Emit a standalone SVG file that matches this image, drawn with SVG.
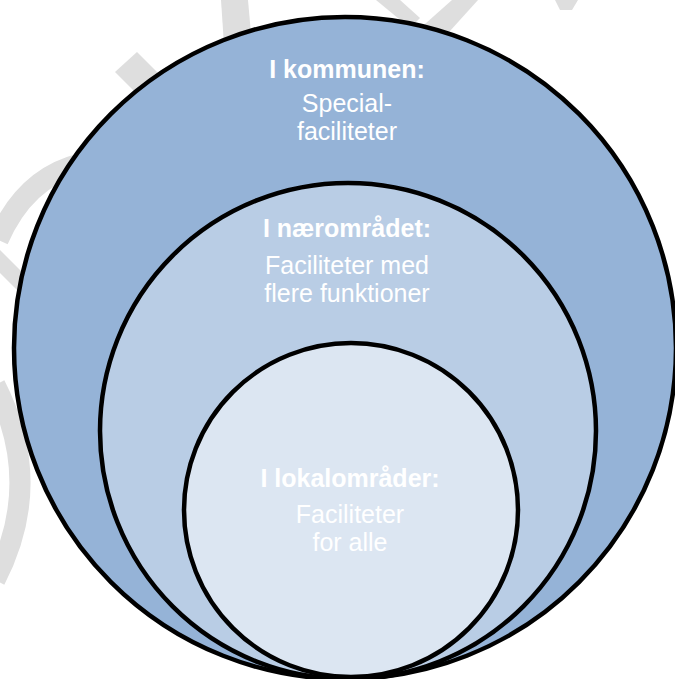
<svg xmlns="http://www.w3.org/2000/svg" width="675" height="679" viewBox="0 0 675 679">
  <style>
    .wm { fill: #DEDEDE; }
    .wms { fill: none; stroke: #DEDEDE; stroke-width: 21; }
    .ring { stroke: #000; stroke-width: 4.5; }
    .title { font-family: "Liberation Sans", Arial, sans-serif; font-size: 25px; font-weight: bold; fill: #FFFFFF; text-anchor: middle; }
    .body { font-family: "Liberation Sans", Arial, sans-serif; font-size: 25px; fill: #FFFFFF; text-anchor: middle; }
  </style>
  <rect x="0" y="0" width="675" height="679" fill="#FFFFFF"/>
  <g id="watermark">
    <polygon class="wm" points="221,0 248,0 252,45 224,45"/>
    <polygon class="wm" points="137,52 115,72 165,122 187,102"/>
    <polygon class="wm" points="376,0 400,0 420,18 410,28"/>
    <polygon class="wm" points="452,0 478,0 440,42 416,32"/>
    <polygon class="wm" points="555,0 578,0 572,10 560,10"/>
    <path class="wms" d="M -2 240 Q 25 178 80 164"/>
    <polygon class="wm" points="0,250 30,280 30,303 0,273"/>
    <path class="wms" d="M -5 385 Q 45 483 -5 580"/>
  </g>
  <g id="node-kommunen">
    <circle class="ring" cx="345" cy="348" r="331" fill="#95B3D7"/>
    <text class="title" x="347" y="78">I kommunen:</text>
    <text class="body" x="347" y="112">Special-</text>
    <text class="body" x="347" y="140">faciliteter</text>
  </g>
  <g id="node-naeromraadet">
    <circle class="ring" cx="348" cy="431" r="248" fill="#B9CDE5"/>
    <text class="title" x="347" y="237">I nærområdet:</text>
    <text class="body" x="347" y="274">Faciliteter med</text>
    <text class="body" x="347" y="302">flere funktioner</text>
  </g>
  <g id="node-lokalomraader">
    <circle class="ring" cx="351" cy="510" r="167" fill="#DCE6F2"/>
    <text class="title" x="350" y="487">I lokalområder:</text>
    <text class="body" x="350" y="523">Faciliteter</text>
    <text class="body" x="350" y="551">for alle</text>
  </g>
  <g id="connectors"/>
</svg>
